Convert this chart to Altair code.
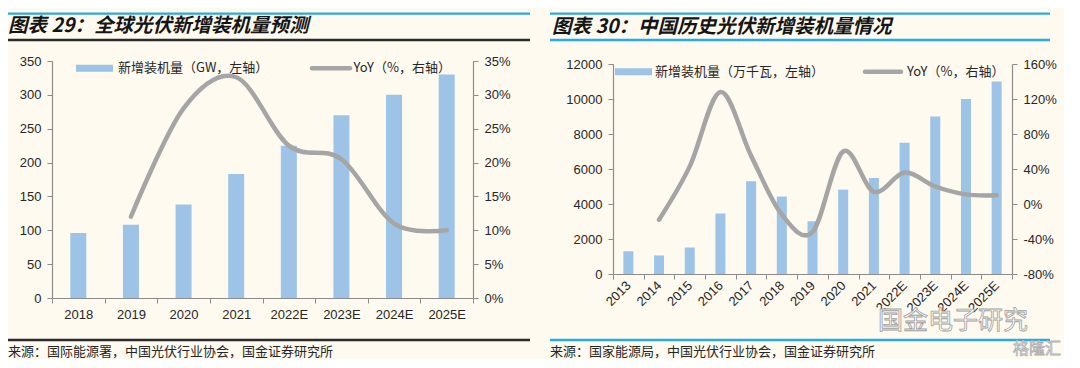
import altair as alt
import pandas as pd

# ---------------- data ----------------
# Figure 29: global PV new installations (GW) and YoY (%)
years_global = ["2018", "2019", "2020", "2021", "2022E", "2023E", "2024E", "2025E"]
added_global_gw = [96, 108, 138, 183, 225, 270, 300, 330]
yoy_global_pct = [None, 12.0, 28.0, 32.6, 22.5, 20.5, 11.0, 10.0]

# Figure 30: China PV new installations (10k kW) and YoY (%)
years_china = ["2013", "2014", "2015", "2016", "2017", "2018", "2019",
               "2020", "2021", "2022E", "2023E", "2024E", "2025E"]
added_china = [1300, 1060, 1513, 3454, 5306, 4426, 3011, 4820, 5488, 7500, 9000, 10000, 11000]
yoy_china_pct = [None, -18, 43, 128, 55, -12, -32, 60, 14, 36, 20, 11, 10]

# axis tick values
left_ticks_global = [0, 50, 100, 150, 200, 250, 300, 350]
right_ticks_global = [0, 5, 10, 15, 20, 25, 30, 35]
left_ticks_china = [0, 2000, 4000, 6000, 8000, 10000, 12000]
right_ticks_china = [-80, -40, 0, 40, 80, 120, 160]

# texts
title_global = "图表 29：全球光伏新增装机量预测"
title_china = "图表 30：中国历史光伏新增装机量情况"
legend_bar_global = "新增装机量（GW，左轴）"
legend_bar_china = "新增装机量（万千瓦，左轴）"
legend_line = "YoY（%，右轴）"
source_global = "来源：国际能源署，中国光伏行业协会，国金证券研究所"
source_china = "来源：国家能源局，中国光伏行业协会，国金证券研究所"
watermark_1 = "国金电子研究"
watermark_2 = "格隆汇"

# ---------------- style ----------------
BG = "#FEFAF0"
BAR = "#9DC3E6"
LINE = "#A5A5A5"
RULE_BLUE = "#2AAAE2"
RULE_BLACK = "#2B2B2B"
TXT = "#262626"
CJK = "Noto Sans CJK SC"
NUM = "Liberation Sans"

one = pd.DataFrame({"k": [0]})


def band(x1, x2, y, color, width):
    """Horizontal decorative line drawn as a thin rectangle."""
    return alt.Chart(one).mark_rect(color=color).encode(
        x=alt.value(x1), x2=alt.value(x2),
        y=alt.value(y - width / 2), y2=alt.value(y + width / 2))


def swatch_line(x1, x2, y, color, width):
    return alt.Chart(one).mark_rule(color=color, strokeWidth=width, strokeCap="round").encode(
        x=alt.value(x1), x2=alt.value(x2), y=alt.value(y), y2=alt.value(y))


def label(text, x, y, size, color=TXT, **kw):
    return alt.Chart(one).mark_text(align="left", baseline="middle", fontSize=size,
                                    font=CJK, color=color, **kw).encode(
        x=alt.value(x), y=alt.value(y), text=alt.value(text))


def panel(cats, bars, yoy, w, h, yrange, ydom, yticks, rdom, rticks, bar_size,
          label_angle, x_label_pad, deco):
    df_bar = pd.DataFrame({"cat": cats, "val": bars})
    df_line = pd.DataFrame({"cat": cats, "yoy": yoy}).dropna()

    extra = {"labelAlign": "right", "labelBaseline": "middle"} if label_angle else {}
    xaxis = alt.Axis(title=None, tickBand="extent", labelAngle=label_angle,
                     labelPadding=x_label_pad, labelFontSize=13, **extra)
    xenc = alt.X("cat:N", sort=cats, scale=alt.Scale(paddingInner=0, paddingOuter=0), axis=xaxis)

    bar = alt.Chart(df_bar).mark_bar(color=BAR, size=bar_size).encode(
        x=xenc,
        y=alt.Y("val:Q", scale=alt.Scale(domain=ydom, nice=False, range=yrange),
                axis=alt.Axis(title=None, values=yticks, grid=False, labelPadding=6, format="d")),
    )
    line = alt.Chart(df_line).mark_line(color=LINE, strokeWidth=4.5, interpolate="cardinal",
                                        strokeCap="round").encode(
        x=alt.X("cat:N", sort=cats),
        y=alt.Y("yoy:Q", scale=alt.Scale(domain=rdom, nice=False, range=yrange),
                axis=alt.Axis(title=None, orient="right", values=rticks, grid=False,
                              labelPadding=6, labelExpr="datum.value + '%'")),
    )
    data_layer = alt.layer(bar, line).resolve_scale(y="independent")
    return alt.layer(data_layer, *deco).properties(width=w, height=h)


# ---- left panel decorations (relative to plot origin) ----
deco_left = [
    band(-44, 478, -47.3, RULE_BLUE, 2.2),
    label(title_global, -44, -35, 19.5, color="#151515", fontWeight="bold", fontStyle="italic"),
    band(-44, 478, -21, RULE_BLACK, 2.5),
    band(24, 61, 7.3, BAR, 7),
    label(legend_bar_global, 66, 7.3, 13),
    swatch_line(260, 298, 7.3, LINE, 4.5),
    label(legend_line, 301.5, 7.3, 13),
    band(-44, 478, 279, RULE_BLACK, 2.5),
    label(source_global, -44, 291, 13),
]

# ---- right panel decorations (relative to group origin) ----
deco_right = [
    band(-63, 437, -47.3, RULE_BLUE, 2.2),
    label(title_china, -61, -34.5, 19.5, color="#151515", fontWeight="bold", fontStyle="italic"),
    band(-63, 437, -21, RULE_BLUE, 2.5),
    band(2, 39, 10.7, BAR, 7),
    label(legend_bar_china, 42, 10.7, 13),
    swatch_line(252, 288, 10.7, LINE, 4.5),
    label(legend_line, 294, 10.7, 13),
    label(watermark_1, 265, 260, 25, color="#FFFFFF", stroke="#A0A0A0", strokeWidth=0.8),
    band(-63, 437, 279, RULE_BLUE, 2.5),
    label(source_china, -63, 291, 13),
    label(watermark_2, 400, 288, 16, color="#FFFFFF", stroke="#B0B0B0", strokeWidth=0.8),
]

left = panel(years_global, added_global_gw, yoy_global_pct, 421, 237, [237, 0],
             [0, 350], left_ticks_global, [0, 35], right_ticks_global, 16, 0, 5, deco_left)
right = panel(years_china, added_china, yoy_china_pct, 399, 213, [213, 3],
              [0, 12000], left_ticks_china, [-80, 160], right_ticks_china, 10, -45, 4, deco_right)

chart = alt.hconcat(left, right, spacing=20).properties(
    padding={"left": 0, "top": 4, "right": 2, "bottom": 0}
).configure(background=BG).configure_view(stroke=None).configure_axis(
    domainColor="#8C8C8C", tickColor="#8C8C8C", tickSize=5, domainWidth=1.2,
    labelFont=NUM, labelFontSize=13, labelColor=TXT,
)

chart.save("out.html", embed_options={"renderer": "svg", "actions": False})
